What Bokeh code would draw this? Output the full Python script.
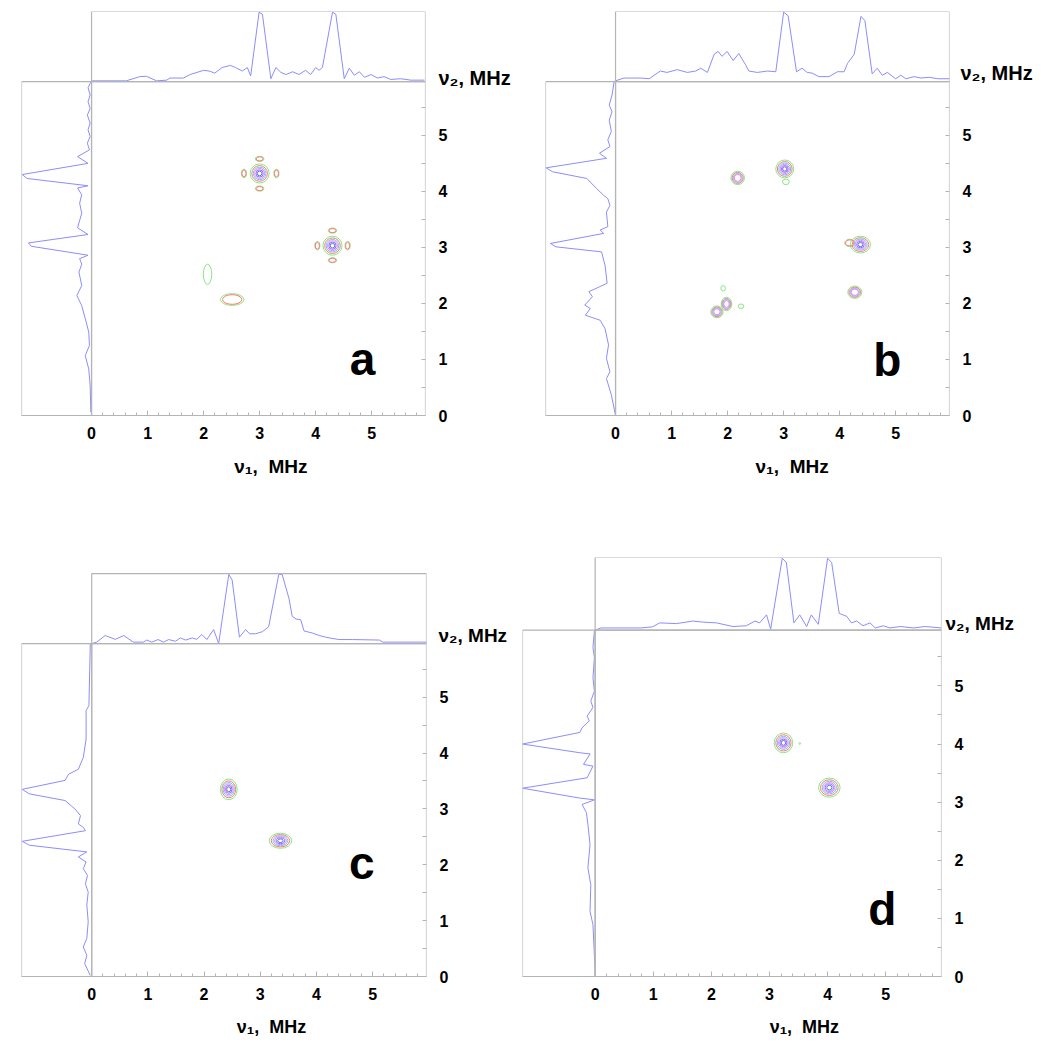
import numpy as np
from bokeh.plotting import figure
from bokeh.layouts import row, column
from bokeh.models import Range1d, FixedTicker, BoxAnnotation, Label, ColumnDataSource, LinearAxis
from bokeh.embed import file_html
from bokeh.resources import INLINE

# ---------------- data ----------------
XMAX = 5.96          # MHz, upper limit of both frequency axes
STRIP = 1.25         # MHz-equivalent width of projection strips
TICKS = [0, 1, 2, 3, 4, 5]
X_MINOR = [round(0.2 * i, 1) for i in range(30) if i % 5]
Y_MINOR = [0.5, 1.5, 2.5, 3.5, 4.5, 5.5]
NU1_TEXT = "ν₁,\u00a0 MHz"
NU2_TEXT = "ν₂, MHz"

# panel a
a_top_x = [0.0, 0.62, 0.86, 0.98, 1.16, 1.34, 1.40, 1.64, 1.76, 2.00, 2.10, 2.20, 2.33, 2.48, 2.57, 2.69, 2.78, 2.84,
           2.99, 3.05, 3.20, 3.29, 3.38, 3.47, 3.59, 3.70, 3.82, 3.91, 4.00, 4.06, 4.12, 4.30, 4.36, 4.51, 4.60, 4.69,
           4.78, 4.87, 4.99, 5.10, 5.22, 5.34, 5.52, 5.70, 5.94]
a_top_v = [0.01, 0.01, 0.07, 0.075, 0.01, 0.02, 0.05, 0.05, 0.10, 0.16, 0.15, 0.12, 0.20, 0.23, 0.20, 0.15, 0.20, 0.08,
           0.99, 0.96, 0.04, 0.20, 0.13, 0.10, 0.14, 0.10, 0.16, 0.10, 0.20, 0.16, 0.20, 0.99, 0.96, 0.04, 0.19, 0.09,
           0.14, 0.06, 0.10, 0.05, 0.07, 0.03, 0.04, 0.02, 0.02]
a_left_y = [5.95, 5.85, 5.72, 5.60, 5.48, 5.36, 5.22, 5.10, 4.98, 4.86, 4.74, 4.62, 4.50, 4.30, 4.23, 4.10, 4.06, 3.94,
            3.79, 3.61, 3.35, 3.23, 3.08, 3.02, 2.86, 2.80, 2.70, 2.56, 2.32, 2.14, 1.96, 1.73, 1.49, 1.25, 1.07, 0.83,
            0.54, 0.06]
a_left_v = [0.01, 0.05, 0.02, 0.05, 0.02, 0.06, 0.02, 0.05, 0.02, 0.06, 0.03, 0.20, 0.05, 0.99, 0.92, 0.05, 0.20, 0.14,
            0.17, 0.14, 0.20, 0.05, 0.90, 0.86, 0.05, 0.17, 0.14, 0.18, 0.14, 0.21, 0.14, 0.09, 0.04, 0.03, 0.09, 0.04,
            0.02, 0.01]
a_pk_x = [3.00, 4.30, 2.72, 3.30, 3.00, 3.00, 4.03, 4.57, 4.30, 4.30, 2.07, 2.51]
a_pk_y = [4.32, 3.03, 4.32, 4.32, 4.58, 4.05, 3.03, 3.03, 3.30, 2.77, 2.52, 2.07]
a_pk_w = [0.34, 0.34, 0.09, 0.09, 0.15, 0.15, 0.09, 0.09, 0.15, 0.15, 0.15, 0.42]
a_pk_h = [0.34, 0.34, 0.15, 0.15, 0.09, 0.09, 0.15, 0.15, 0.09, 0.09, 0.36, 0.21]
a_pk_lv = [6, 6, 2, 2, 2, 2, 2, 2, 2, 2, 1, 2]

# panel b
b_top_x = [0.0, 0.15, 0.45, 0.60, 0.80, 0.92, 1.10, 1.28, 1.43, 1.52, 1.64, 1.76, 1.83, 1.90, 1.99, 2.10, 2.20, 2.32,
           2.38, 2.53, 2.71, 2.86, 3.00, 3.08, 3.23, 3.33, 3.42, 3.51, 3.63, 3.81, 3.96, 4.08, 4.14, 4.26, 4.38, 4.45,
           4.58, 4.67, 4.76, 4.85, 5.00, 5.09, 5.18, 5.33, 5.45, 5.60, 5.75, 5.96]
b_top_v = [0.01, 0.05, 0.05, 0.04, 0.15, 0.13, 0.17, 0.13, 0.15, 0.19, 0.13, 0.39, 0.43, 0.36, 0.43, 0.30, 0.40, 0.24,
           0.15, 0.13, 0.15, 0.14, 0.99, 0.94, 0.14, 0.19, 0.13, 0.12, 0.07, 0.07, 0.14, 0.14, 0.26, 0.39, 0.93, 0.87,
           0.11, 0.19, 0.09, 0.13, 0.04, 0.09, 0.04, 0.07, 0.05, 0.06, 0.04, 0.04]
b_left_y = [5.96, 5.72, 5.54, 5.42, 5.27, 5.07, 4.92, 4.80, 4.68, 4.59, 4.42, 4.35, 4.23, 4.05, 3.93, 3.87, 3.75, 3.63,
            3.37, 3.31, 3.25, 3.07, 3.01, 2.92, 2.68, 2.36, 2.21, 2.12, 1.97, 1.91, 1.79, 1.70, 1.55, 1.26, 1.02, 0.78,
            0.66, 0.37, 0.0]
b_left_v = [0.02, 0.05, 0.09, 0.05, 0.09, 0.06, 0.11, 0.08, 0.23, 0.13, 0.99, 0.90, 0.41, 0.27, 0.17, 0.11, 0.08, 0.13,
            0.11, 0.22, 0.17, 0.93, 0.85, 0.20, 0.15, 0.12, 0.38, 0.33, 0.44, 0.36, 0.43, 0.22, 0.15, 0.10, 0.13, 0.08,
            0.13, 0.06, 0.0]
b_pk_x = [3.02, 3.04, 2.18, 4.37, 4.18, 4.27, 1.98, 1.81, 1.92, 2.24]
b_pk_y = [4.40, 4.17, 4.24, 3.05, 3.08, 2.20, 1.99, 1.85, 2.27, 1.95]
b_pk_w = [0.32, 0.12, 0.24, 0.36, 0.18, 0.25, 0.19, 0.22, 0.08, 0.10]
b_pk_h = [0.32, 0.10, 0.24, 0.30, 0.13, 0.22, 0.24, 0.21, 0.10, 0.08]
b_pk_lv = [6, 1, 4, 6, 2, 4, 4, 4, 1, 1]

# panel c
c_top_x = [0.0, 0.09, 0.24, 0.42, 0.57, 0.74, 0.92, 0.98, 1.07, 1.18, 1.28, 1.37, 1.49, 1.58, 1.67, 1.79, 1.87, 1.96,
           2.05, 2.17, 2.26, 2.44, 2.50, 2.63, 2.74, 2.81, 2.92, 3.04, 3.15, 3.33, 3.39, 3.51, 3.57, 3.64, 3.72, 3.78,
           3.93, 4.05, 4.17, 4.40, 4.64, 5.12, 5.18, 5.98]
c_top_v = [0.0, 0.02, 0.115, 0.06, 0.115, 0.02, 0.02, 0.05, 0.02, 0.057, 0.02, 0.057, 0.033, 0.08, 0.05, 0.08, 0.06,
           0.13, 0.057, 0.20, 0.0, 0.99, 0.91, 0.09, 0.20, 0.14, 0.14, 0.17, 0.24, 0.99, 0.99, 0.65, 0.39, 0.35, 0.34,
           0.18, 0.15, 0.115, 0.09, 0.057, 0.057, 0.05, 0.02, 0.02]
c_left_y = [5.95, 4.85, 4.76, 4.25, 3.92, 3.71, 3.62, 3.51, 3.35, 3.27, 3.15, 3.00, 2.88, 2.73, 2.67, 2.61, 2.42, 2.35,
            2.23, 2.14, 2.05, 1.93, 1.81, 1.66, 1.51, 1.28, 0.98, 0.68, 0.53, 0.38, 0.23, 0.02]
c_left_v = [0.02, 0.04, 0.08, 0.08, 0.12, 0.19, 0.33, 0.38, 0.99, 0.89, 0.38, 0.24, 0.16, 0.19, 0.12, 0.09, 0.99, 0.89,
            0.07, 0.19, 0.08, 0.12, 0.06, 0.09, 0.05, 0.07, 0.05, 0.07, 0.12, 0.07, 0.10, 0.02]
c_pk_x = [2.44, 3.36]
c_pk_y = [3.35, 2.43]
c_pk_w = [0.30, 0.40]
c_pk_h = [0.37, 0.27]
c_pk_lv = [6, 6]

# panel d
d_top_x = [0.0, 0.10, 0.79, 0.99, 1.11, 1.40, 1.68, 1.86, 2.09, 2.37, 2.60, 2.75, 2.83, 2.95, 3.02, 3.22, 3.29, 3.42,
           3.52, 3.64, 3.72, 3.84, 4.00, 4.07, 4.20, 4.33, 4.41, 4.50, 4.61, 4.73, 4.82, 4.96, 5.07, 5.25, 5.48, 5.68,
           5.96]
d_top_v = [0.0, 0.03, 0.03, 0.046, 0.10, 0.09, 0.125, 0.11, 0.10, 0.05, 0.06, 0.125, 0.10, 0.21, 0.013, 0.99, 0.93,
           0.10, 0.21, 0.05, 0.21, 0.08, 0.99, 0.93, 0.23, 0.19, 0.10, 0.125, 0.06, 0.10, 0.03, 0.06, 0.03, 0.05, 0.03,
           0.05, 0.03]
d_left_y = [5.95, 5.66, 5.49, 5.14, 4.91, 4.74, 4.63, 4.48, 4.40, 4.28, 4.20, 4.00, 3.85, 3.83, 3.65, 3.62, 3.42, 3.24,
            3.07, 3.04, 2.96, 2.82, 2.62, 2.27, 1.87, 1.58, 1.12, 0.89, 0.09, 0.0]
d_left_v = [0.01, 0.03, 0.01, 0.03, 0.01, 0.06, 0.03, 0.11, 0.08, 0.18, 0.21, 1.0, 0.21, 0.07, 0.16, 0.03, 0.11, 1.0,
            0.21, 0.01, 0.18, 0.12, 0.10, 0.07, 0.10, 0.06, 0.07, 0.03, 0.0, 0.0]
d_pk_x = [3.24, 4.03, 3.52]
d_pk_y = [4.02, 3.25, 4.01]
d_pk_w = [0.32, 0.37, 0.03]
d_pk_h = [0.34, 0.33, 0.03]
d_pk_lv = [6, 6, 1]

# ---------------- styles ----------------
FONT = "Liberation Sans"
GRAY = "#b4b4b4"
TRACE = "#8c8cff"
LEVEL_COLORS = ["#86e886", "#ff7878", "#66c8ee", "#f878f8", "#7878ff", "#6a6ad8"]
LEVEL_SCALE = [1.0, 0.82, 0.66, 0.52, 0.38, 0.24]

PANELS = [
    dict(letter="a", W=532, H=549, bl=21, br=107, bt=11, bb=134, gap=0.0,
         top=(a_top_x, a_top_v), left=(a_left_y, a_left_v),
         pk=(a_pk_x, a_pk_y, a_pk_w, a_pk_h, a_pk_lv),
         nu2=(6.02, -12, "20px"), nu1=(3.2, 14, "19px"), let=(4.61, 1.0)),
    dict(letter="b", W=510, H=549, bl=13, br=93, bt=11, bb=134, gap=0.0,
         top=(b_top_x, b_top_v), left=(b_left_y, b_left_v),
         pk=(b_pk_x, b_pk_y, b_pk_w, b_pk_h, b_pk_lv),
         nu2=(6.12, -14, "20px"), nu1=(3.15, 14, "19px"), let=(4.60, 0.99)),
    dict(letter="c", W=517, H=493, bl=21, br=91, bt=8, bb=66, gap=0.29,
         top=(c_top_x, c_top_v), left=(c_left_y, c_left_v),
         pk=(c_pk_x, c_pk_y, c_pk_w, c_pk_h, c_pk_lv),
         nu2=(6.10, -13, "19px"), nu1=(3.2, 14, "18px"), let=(4.58, 2.03)),
    dict(letter="d", W=529, H=493, bl=5, br=105, bt=8, bb=66, gap=0.0,
         top=(d_top_x, d_top_v), left=(d_left_y, d_left_v),
         pk=(d_pk_x, d_pk_y, d_pk_w, d_pk_h, d_pk_lv),
         nu2=(6.07, -21, "19px"), nu1=(3.6, 14, "18px"), let=(4.70, 1.17)),
]


def text_axis(pos, text, standoff, size):
    """An axis without line or ticks whose single tick label carries a title text."""
    ax = LinearAxis(ticker=FixedTicker(ticks=[pos]), major_label_overrides={pos: text},
                    axis_line_color=None, major_tick_line_color=None, minor_tick_line_color=None,
                    major_tick_in=0, major_tick_out=0, minor_tick_in=0, minor_tick_out=0,
                    major_label_standoff=standoff)
    ax.major_label_text_font = FONT
    ax.major_label_text_font_style = "bold"
    ax.major_label_text_font_size = size
    ax.major_label_text_color = "black"
    return ax


def box(**kw):
    return BoxAnnotation(fill_color=None, fill_alpha=0, line_color=GRAY, line_width=1.2, line_alpha=1, **kw)


def make_panel(cfg):
    ytop = XMAX + STRIP + cfg["gap"]
    p = figure(width=cfg["W"], height=cfg["H"], title=None,
               x_range=Range1d(-STRIP, XMAX), y_range=Range1d(0, ytop),
               x_axis_location="below", y_axis_location="right",
               output_backend="svg", toolbar_location=None,
               min_border_left=cfg["bl"], min_border_right=cfg["br"],
               min_border_top=cfg["bt"], min_border_bottom=cfg["bb"])
    p.outline_line_color = None
    p.xgrid.grid_line_color = None
    p.ygrid.grid_line_color = None
    p.background_fill_color = "white"
    p.border_fill_color = "white"

    # projection ranges: intensity 0 at the main frame edge, 1 at the strip's outer edge
    p.extra_y_ranges = {"ptop": Range1d(-XMAX / STRIP, (ytop - XMAX) / STRIP)}
    p.extra_x_ranges = {"pleft": Range1d(1.0, -XMAX / STRIP)}

    # axes
    xa = p.xaxis[0]
    xa.ticker = FixedTicker(ticks=TICKS, minor_ticks=X_MINOR)
    xa.major_tick_in, xa.major_tick_out = 5, 0
    xa.minor_tick_in, xa.minor_tick_out = 3, 0
    xa.major_label_standoff = 11
    xa.axis_line_color = GRAY
    xa.axis_line_width = 1.2
    ya = p.yaxis[0]
    ya.ticker = FixedTicker(ticks=TICKS, minor_ticks=Y_MINOR)
    ya.major_tick_in, ya.major_tick_out = 4, 0
    ya.minor_tick_in, ya.minor_tick_out = 4, 0
    ya.major_label_standoff = 13
    ya.axis_line_color = None
    for ax in (xa, ya):
        ax.major_tick_line_color = GRAY
        ax.minor_tick_line_color = GRAY
        ax.major_label_text_font = FONT
        ax.major_label_text_font_style = "bold"
        ax.major_label_text_font_size = "16px"
        ax.major_label_text_color = "black"

    # axis titles (placed as single tick labels so they sit beside the right spots)
    n2y, n2s, n2f = cfg["nu2"]
    p.add_layout(text_axis(n2y, NU2_TEXT, n2s, n2f), "right")
    n1x, n1s, n1f = cfg["nu1"]
    p.add_layout(text_axis(n1x, NU1_TEXT, n1s, n1f), "below")

    # boxes: main map, top strip, left strip
    p.add_layout(box(left=0, right=XMAX, bottom=0, top=XMAX))
    p.add_layout(box(left=0, right=XMAX, bottom=XMAX, top=XMAX + STRIP))
    p.add_layout(box(left=-STRIP, right=0, bottom=0, top=XMAX))

    # projections
    tx, tv = cfg["top"]
    p.line(tx, tv, y_range_name="ptop", line_color=TRACE, line_width=1)
    ly, lv = cfg["left"]
    p.line(lv, ly, x_range_name="pleft", line_color=TRACE, line_width=1)

    # contour rings
    px, py, pw, ph, plv = cfg["pk"]
    for lvl, (col, sc) in enumerate(zip(LEVEL_COLORS, LEVEL_SCALE)):
        idx = [i for i in range(len(px)) if plv[i] > lvl]
        if not idx:
            continue
        src = ColumnDataSource(dict(x=[px[i] for i in idx], y=[py[i] for i in idx],
                                    w=[pw[i] * sc for i in idx], h=[ph[i] * sc for i in idx]))
        p.ellipse(x="x", y="y", width="w", height="h", source=src,
                  fill_color=None, line_color=col, line_width=1)

    # panel letter
    lx, lyy = cfg["let"]
    p.add_layout(Label(x=lx, y=lyy, text=cfg["letter"], text_font=FONT, text_font_style="bold",
                       text_font_size="46px", text_align="left", text_baseline="alphabetic",
                       text_color="black"))
    return p


figs = [make_panel(c) for c in PANELS]
layout = column(row(figs[0], figs[1]), row(figs[2], figs[3]))
open("out.html", "w").write(file_html(layout, INLINE))
